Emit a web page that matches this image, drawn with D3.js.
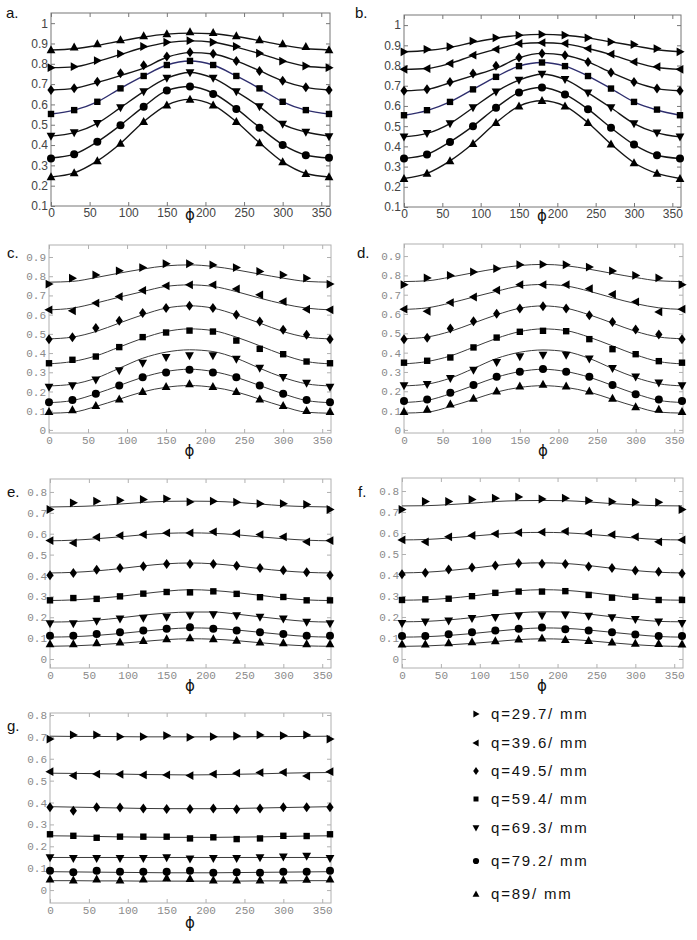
<!DOCTYPE html>
<html><head><meta charset="utf-8">
<script src="https://cdn.jsdelivr.net/npm/d3@7"></script>
<style>body{margin:0;background:#fff}svg{display:block}</style>
</head><body>
<script>
const phi = [0,30,60,90,120,150,180,210,240,270,300,330,360];
const xTicks = [0,50,100,150,200,250,300,350];
const qLabels = ["q=29.7/ mm","q=39.6/ mm","q=49.5/ mm","q=59.4/ mm","q=69.3/ mm","q=79.2/ mm","q=89/ mm"];
const legendMarkers = ["right","left","diamond","square","down","circle","up"];
const markersA = ["up","right","diamond","square","down","circle","up"];
const yTicksAB = [0.1,0.2,0.3,0.4,0.5,0.6,0.7,0.8,0.9,1];
const yTicksCD = [0,0.1,0.2,0.3,0.4,0.5,0.6,0.7,0.8,0.9];
const yTicksEFG = [0,0.1,0.2,0.3,0.4,0.5,0.6,0.7,0.8];

const pointsA = [
 [0.868,0.882,0.898,0.918,0.938,0.947,0.957,0.954,0.938,0.918,0.898,0.885,0.868],
 [0.781,0.786,0.816,0.849,0.885,0.906,0.914,0.906,0.885,0.852,0.813,0.789,0.781],
 [0.671,0.679,0.712,0.753,0.793,0.836,0.857,0.849,0.814,0.765,0.716,0.684,0.671],
 [0.553,0.572,0.613,0.679,0.740,0.794,0.814,0.794,0.740,0.679,0.613,0.572,0.553],
 [0.444,0.461,0.507,0.584,0.663,0.729,0.757,0.729,0.663,0.589,0.503,0.464,0.441],
 [0.334,0.355,0.416,0.498,0.589,0.668,0.688,0.651,0.577,0.485,0.400,0.350,0.337],
 [0.243,0.263,0.322,0.408,0.515,0.597,0.625,0.597,0.515,0.411,0.317,0.260,0.243]];
const fitA = [
 [0.868,0.874,0.890,0.912,0.932,0.946,0.951,0.948,0.934,0.914,0.892,0.875,0.868],
 [0.781,0.785,0.812,0.846,0.880,0.904,0.913,0.906,0.882,0.850,0.815,0.788,0.781],
 [0.671,0.679,0.708,0.742,0.779,0.832,0.855,0.848,0.814,0.766,0.716,0.684,0.671],
 [0.553,0.572,0.613,0.679,0.740,0.794,0.814,0.794,0.740,0.679,0.613,0.572,0.553],
 [0.444,0.461,0.507,0.584,0.663,0.729,0.757,0.729,0.663,0.589,0.503,0.464,0.444],
 [0.336,0.355,0.416,0.498,0.589,0.668,0.688,0.655,0.579,0.487,0.402,0.351,0.336],
 [0.243,0.263,0.322,0.408,0.515,0.597,0.625,0.597,0.515,0.411,0.317,0.260,0.243]];

const pointsB = [
 [0.868,0.880,0.893,0.921,0.937,0.950,0.954,0.950,0.937,0.917,0.904,0.884,0.868],
 [0.781,0.785,0.810,0.851,0.880,0.909,0.913,0.909,0.884,0.856,0.818,0.794,0.781],
 [0.675,0.682,0.719,0.761,0.799,0.840,0.860,0.851,0.818,0.766,0.719,0.686,0.675],
 [0.554,0.579,0.620,0.682,0.744,0.797,0.815,0.797,0.748,0.686,0.620,0.582,0.554],
 [0.447,0.464,0.513,0.591,0.670,0.728,0.757,0.731,0.665,0.591,0.513,0.467,0.447],
 [0.340,0.360,0.422,0.500,0.591,0.667,0.691,0.657,0.584,0.492,0.409,0.356,0.340],
 [0.241,0.266,0.328,0.414,0.517,0.599,0.626,0.599,0.517,0.411,0.319,0.266,0.241]];
const fitB = [
 [0.868,0.874,0.890,0.914,0.935,0.949,0.954,0.950,0.937,0.917,0.898,0.878,0.868],
 [0.781,0.785,0.810,0.849,0.880,0.907,0.913,0.907,0.884,0.854,0.818,0.790,0.781],
 [0.675,0.682,0.715,0.750,0.786,0.838,0.860,0.851,0.818,0.766,0.719,0.686,0.675],
 [0.554,0.577,0.620,0.682,0.744,0.797,0.815,0.797,0.748,0.686,0.620,0.580,0.554],
 [0.447,0.464,0.513,0.591,0.670,0.728,0.757,0.731,0.665,0.591,0.513,0.467,0.447],
 [0.340,0.360,0.422,0.500,0.591,0.667,0.691,0.657,0.584,0.492,0.409,0.356,0.340],
 [0.241,0.266,0.328,0.414,0.517,0.599,0.626,0.599,0.517,0.411,0.319,0.266,0.241]];

const pointsC = [
 [0.759,0.790,0.807,0.828,0.845,0.865,0.865,0.859,0.845,0.825,0.807,0.790,0.759],
 [0.625,0.620,0.660,0.694,0.726,0.750,0.755,0.755,0.734,0.703,0.668,0.628,0.625],
 [0.472,0.483,0.530,0.568,0.608,0.634,0.646,0.634,0.599,0.564,0.521,0.495,0.472],
 [0.347,0.365,0.382,0.431,0.483,0.507,0.517,0.512,0.465,0.422,0.394,0.356,0.347],
 [0.222,0.231,0.260,0.309,0.347,0.378,0.387,0.387,0.368,0.321,0.274,0.243,0.222],
 [0.144,0.156,0.188,0.231,0.274,0.299,0.313,0.299,0.274,0.231,0.188,0.156,0.144],
 [0.095,0.104,0.127,0.160,0.200,0.226,0.240,0.226,0.200,0.160,0.127,0.101,0.095]];
const fitC = [
 [0.769,0.773,0.793,0.816,0.837,0.854,0.859,0.851,0.833,0.811,0.790,0.773,0.769],
 [0.625,0.634,0.660,0.691,0.720,0.747,0.755,0.747,0.720,0.686,0.656,0.634,0.625],
 [0.474,0.483,0.512,0.556,0.599,0.634,0.646,0.634,0.599,0.556,0.512,0.483,0.474],
 [0.344,0.356,0.385,0.431,0.477,0.512,0.526,0.517,0.483,0.438,0.391,0.356,0.344],
 [0.229,0.238,0.269,0.321,0.373,0.405,0.417,0.408,0.373,0.321,0.273,0.240,0.229],
 [0.142,0.153,0.188,0.231,0.274,0.304,0.316,0.304,0.274,0.231,0.188,0.153,0.142],
 [0.087,0.092,0.122,0.160,0.198,0.222,0.231,0.222,0.198,0.160,0.122,0.092,0.087]];

const pointsD = [
 [0.752,0.787,0.800,0.818,0.835,0.855,0.857,0.855,0.843,0.823,0.800,0.787,0.752],
 [0.625,0.614,0.659,0.688,0.723,0.752,0.752,0.752,0.731,0.702,0.663,0.611,0.625],
 [0.470,0.477,0.525,0.563,0.602,0.628,0.640,0.628,0.594,0.559,0.520,0.494,0.470],
 [0.348,0.358,0.375,0.427,0.478,0.508,0.513,0.511,0.470,0.418,0.392,0.356,0.348],
 [0.229,0.236,0.267,0.310,0.349,0.379,0.387,0.387,0.367,0.318,0.275,0.244,0.229],
 [0.150,0.158,0.193,0.232,0.275,0.301,0.315,0.301,0.275,0.232,0.184,0.158,0.150],
 [0.095,0.107,0.133,0.164,0.201,0.227,0.236,0.227,0.201,0.164,0.120,0.107,0.095]];
const fitD = [
 [0.768,0.772,0.791,0.814,0.835,0.851,0.857,0.850,0.832,0.810,0.789,0.772,0.768],
 [0.624,0.632,0.657,0.688,0.718,0.745,0.753,0.745,0.718,0.684,0.654,0.632,0.624],
 [0.472,0.481,0.510,0.553,0.596,0.630,0.642,0.630,0.596,0.553,0.510,0.481,0.472],
 [0.342,0.354,0.383,0.428,0.474,0.509,0.523,0.514,0.480,0.435,0.389,0.354,0.342],
 [0.228,0.237,0.268,0.318,0.370,0.402,0.414,0.405,0.370,0.318,0.271,0.239,0.228],
 [0.142,0.153,0.187,0.230,0.273,0.302,0.314,0.302,0.273,0.230,0.187,0.153,0.142],
 [0.087,0.092,0.121,0.158,0.196,0.220,0.229,0.220,0.196,0.158,0.121,0.092,0.087]];

const pointsE = [
 [0.716,0.748,0.756,0.760,0.764,0.767,0.752,0.756,0.751,0.744,0.744,0.740,0.716],
 [0.567,0.556,0.583,0.591,0.596,0.604,0.604,0.609,0.601,0.596,0.585,0.561,0.567],
 [0.401,0.412,0.428,0.436,0.444,0.455,0.455,0.455,0.447,0.436,0.425,0.415,0.401],
 [0.281,0.292,0.288,0.300,0.313,0.321,0.319,0.324,0.312,0.296,0.297,0.281,0.281],
 [0.169,0.169,0.181,0.192,0.196,0.201,0.208,0.212,0.208,0.200,0.192,0.176,0.169],
 [0.112,0.112,0.120,0.128,0.137,0.145,0.152,0.145,0.137,0.128,0.120,0.112,0.112],
 [0.073,0.073,0.077,0.081,0.088,0.096,0.101,0.096,0.089,0.081,0.077,0.073,0.073]];
const fitE = [
 [0.728,0.730,0.734,0.742,0.750,0.755,0.756,0.755,0.750,0.742,0.734,0.730,0.728],
 [0.566,0.569,0.576,0.585,0.595,0.602,0.604,0.602,0.595,0.585,0.576,0.569,0.566],
 [0.412,0.415,0.422,0.433,0.446,0.456,0.460,0.456,0.446,0.433,0.422,0.415,0.412],
 [0.280,0.283,0.290,0.300,0.313,0.325,0.332,0.328,0.318,0.305,0.292,0.283,0.280],
 [0.177,0.179,0.186,0.197,0.210,0.220,0.225,0.225,0.215,0.202,0.190,0.180,0.177],
 [0.105,0.107,0.113,0.122,0.133,0.143,0.149,0.147,0.139,0.128,0.117,0.108,0.105],
 [0.061,0.063,0.068,0.075,0.084,0.093,0.097,0.095,0.088,0.078,0.069,0.063,0.061]];

const pointsF = [
 [0.712,0.750,0.750,0.760,0.766,0.772,0.762,0.766,0.754,0.749,0.746,0.746,0.712],
 [0.567,0.558,0.582,0.588,0.596,0.602,0.604,0.608,0.599,0.592,0.582,0.558,0.567],
 [0.404,0.411,0.426,0.436,0.445,0.456,0.453,0.452,0.441,0.433,0.422,0.416,0.407],
 [0.281,0.284,0.287,0.299,0.315,0.321,0.321,0.323,0.305,0.292,0.296,0.281,0.281],
 [0.170,0.176,0.181,0.193,0.198,0.205,0.206,0.210,0.204,0.197,0.189,0.176,0.170],
 [0.110,0.110,0.118,0.127,0.136,0.144,0.150,0.142,0.136,0.127,0.117,0.110,0.110],
 [0.071,0.071,0.077,0.081,0.086,0.095,0.100,0.092,0.087,0.080,0.075,0.073,0.071]];
const fitF = [
 [0.729,0.730,0.735,0.742,0.750,0.754,0.755,0.754,0.748,0.740,0.734,0.730,0.729],
 [0.567,0.569,0.576,0.585,0.594,0.601,0.603,0.601,0.594,0.585,0.576,0.569,0.567],
 [0.410,0.413,0.421,0.432,0.445,0.455,0.458,0.455,0.445,0.432,0.421,0.413,0.410],
 [0.280,0.282,0.289,0.300,0.313,0.325,0.330,0.327,0.317,0.304,0.291,0.282,0.280],
 [0.177,0.179,0.186,0.197,0.210,0.220,0.225,0.224,0.214,0.201,0.189,0.179,0.177],
 [0.104,0.106,0.112,0.121,0.132,0.142,0.148,0.146,0.138,0.127,0.116,0.107,0.104],
 [0.060,0.062,0.067,0.074,0.083,0.092,0.096,0.094,0.087,0.077,0.068,0.062,0.060]];

const pointsG = [
 [0.690,0.709,0.709,0.701,0.701,0.706,0.698,0.701,0.704,0.709,0.706,0.709,0.690],
 [0.541,0.523,0.530,0.529,0.526,0.526,0.523,0.530,0.534,0.537,0.538,0.521,0.541],
 [0.378,0.363,0.378,0.377,0.373,0.370,0.370,0.373,0.369,0.373,0.378,0.378,0.378],
 [0.255,0.248,0.239,0.244,0.244,0.244,0.236,0.241,0.233,0.236,0.248,0.247,0.255],
 [0.148,0.145,0.145,0.145,0.145,0.148,0.142,0.145,0.145,0.148,0.152,0.155,0.145],
 [0.088,0.081,0.088,0.084,0.084,0.084,0.088,0.079,0.081,0.079,0.084,0.084,0.088],
 [0.050,0.046,0.050,0.046,0.050,0.056,0.053,0.046,0.046,0.046,0.046,0.049,0.050]];
const fitG = [
 [0.703,0.702,0.702,0.701,0.700,0.700,0.700,0.700,0.700,0.701,0.701,0.702,0.703],
 [0.534,0.533,0.532,0.530,0.528,0.527,0.526,0.527,0.529,0.531,0.534,0.536,0.537],
 [0.381,0.379,0.377,0.375,0.373,0.372,0.372,0.372,0.373,0.375,0.377,0.379,0.381],
 [0.248,0.247,0.245,0.243,0.242,0.241,0.241,0.241,0.242,0.243,0.245,0.247,0.248],
 [0.149,0.149,0.149,0.149,0.149,0.149,0.149,0.149,0.149,0.149,0.149,0.149,0.149],
 [0.084,0.083,0.082,0.081,0.080,0.079,0.079,0.079,0.080,0.081,0.082,0.083,0.084],
 [0.043,0.043,0.042,0.042,0.041,0.041,0.041,0.041,0.041,0.042,0.042,0.043,0.043]];

const W = 697, H = 940;
const svg = d3.select("body").append("svg").attr("width", W).attr("height", H);

function markerPath(type, k) {
  k = k || 1;
  const p = d3.path();
  const poly = pts => { p.moveTo(pts[0][0]*k, pts[0][1]*k); pts.slice(1).forEach(q => p.lineTo(q[0]*k, q[1]*k)); p.closePath(); };
  switch (type) {
    case "up": poly([[0,-4.6],[4.4,3.4],[-4.4,3.4]]); break;
    case "down": poly([[0,4.6],[4.4,-3.4],[-4.4,-3.4]]); break;
    case "right": poly([[-3.4,-4.4],[4.6,0],[-3.4,4.4]]); break;
    case "left": poly([[3.4,-4.4],[-4.6,0],[3.4,4.4]]); break;
    case "diamond": poly([[0,-5],[3.6,0],[0,5],[-3.6,0]]); break;
    case "square": poly([[-3.2,-3.2],[3.2,-3.2],[3.2,3.2],[-3.2,3.2]]); break;
    case "circle": p.arc(0,0,4*k,0,2*Math.PI); p.closePath(); break;
  }
  return p.toString();
}

function drawPanel(cfg) {
  const x = d3.scaleLinear().domain([0,360]).range([cfg.x0, cfg.x1]);
  const y = d3.scaleLinear().domain(cfg.yDom).range([cfg.bot, cfg.top]);
  const g = svg.append("g");
  const font = cfg.mono ? "'Liberation Mono','DejaVu Sans Mono',monospace" : "'Liberation Sans',Arial,sans-serif";
  const fs = cfg.mono ? 11 : 12;
  const tickCol = cfg.mono ? "#8a8a8a" : "#444";
  const boxCol = cfg.mono ? "#b0b0b0" : "#777";

  const ax = (gen, tr, labels) => {
    const a = g.append("g").attr("transform", tr).call(gen);
    a.select(".domain").remove();
    a.selectAll("line").attr("stroke", boxCol);
    a.selectAll("text").attr("fill", tickCol).attr("font-family", font).attr("font-size", fs);
    if (!labels) a.selectAll("text").remove();
    return a;
  };
  const xf = d3.format("d");
  const yf = v => d3.format("~g")(+v.toFixed(2));
  ax(d3.axisBottom(x).tickValues(xTicks).tickFormat(xf).tickSize(-4).tickPadding(cfg.mono ? 3 : 2), `translate(0,${cfg.bot})`, true);
  ax(d3.axisTop(x).tickValues(xTicks).tickFormat("").tickSize(-4), `translate(0,${cfg.top})`, false);
  ax(d3.axisLeft(y).tickValues(cfg.yTicks).tickFormat(yf).tickSize(-4).tickPadding(3), `translate(${cfg.x0},0)`, true);
  ax(d3.axisRight(y).tickValues(cfg.yTicks).tickFormat("").tickSize(-4), `translate(${cfg.x1 + 1},0)`, false);

  g.append("rect").attr("x", cfg.x0).attr("y", cfg.top).attr("width", cfg.x1 + 1 - cfg.x0).attr("height", cfg.bot - cfg.top)
    .attr("fill", "none").attr("stroke", boxCol).attr("stroke-width", 1);

  const line = d3.line().x((d,i) => x(phi[i])).y(d => y(d)).curve(d3.curveMonotoneX);
  cfg.fits.forEach((s, si) => {
    g.append("path").attr("d", line(s)).attr("fill", "none")
      .attr("stroke", cfg.mono ? "#3a3a3a" : (si === 3 ? "#2e2e6e" : "#151515"))
      .attr("stroke-width", cfg.mono ? 1 : 1.4);
  });
  cfg.points.forEach((s, si) => {
    g.append("g").selectAll("path").data(s).join("path")
      .attr("transform", (d,i) => `translate(${x(phi[i])},${y(d)})`)
      .attr("d", markerPath(cfg.markers[si])).attr("fill", "#000");
  });
  svg.append("text").attr("x", cfg.lx).attr("y", cfg.ly).text(cfg.label)
    .attr("font-family", "'Liberation Sans',Arial,sans-serif").attr("font-size", 15).attr("fill", "#111");
  svg.append("text").attr("x", (cfg.x0 + cfg.x1) / 2).attr("y", cfg.phiY).attr("text-anchor", "middle")
    .attr("font-family", "'DejaVu Sans',sans-serif").attr("font-size", 15).attr("fill", "#111").text("ϕ");
}

drawPanel({label:"a.", lx:6, ly:18, x0:51, x1:329, top:13, bot:206, yDom:[0.1,1.05], yTicks:yTicksAB, mono:false, points:pointsA, fits:fitA, markers:markersA, phiY:220});
drawPanel({label:"b.", lx:355, ly:18, x0:404, x1:680, top:15, bot:207, yDom:[0.1,1.05], yTicks:yTicksAB, mono:false, points:pointsB, fits:fitB, markers:legendMarkers, phiY:221});
drawPanel({label:"c.", lx:7, ly:258, x0:49, x1:330, top:245, bot:433, yDom:[-0.016,0.9625], yTicks:yTicksCD, mono:true, points:pointsC, fits:fitC, markers:legendMarkers, phiY:456});
drawPanel({label:"d.", lx:357, ly:258, x0:404, x1:682, top:244, bot:433, yDom:[-0.016,0.9625], yTicks:yTicksCD, mono:true, points:pointsD, fits:fitD, markers:legendMarkers, phiY:456});
drawPanel({label:"e.", lx:7, ly:497, x0:50, x1:330, top:479, bot:668, yDom:[-0.043,0.862], yTicks:yTicksEFG, mono:true, points:pointsE, fits:fitE, markers:legendMarkers, phiY:691});
drawPanel({label:"f.", lx:358, ly:497, x0:402, x1:682, top:478, bot:668, yDom:[-0.043,0.862], yTicks:yTicksEFG, mono:true, points:pointsF, fits:fitF, markers:legendMarkers, phiY:691});
drawPanel({label:"g.", lx:7, ly:731, x0:50, x1:330, top:713, bot:903, yDom:[-0.059,0.809], yTicks:yTicksEFG, mono:true, points:pointsG, fits:fitG, markers:legendMarkers, phiY:928});

// legend
const legendY = [714,743,771,799,828,861,894];
const lg = svg.append("g");
qLabels.forEach((t, i) => {
  lg.append("path").attr("transform", `translate(476,${legendY[i]})`).attr("d", markerPath(legendMarkers[i], 0.78)).attr("fill", "#000");
  lg.append("text").attr("x", 491).attr("y", legendY[i] + 5).text(t)
    .attr("font-family", "'Liberation Sans',Arial,sans-serif").attr("font-size", 15).attr("letter-spacing", "1.8px").attr("fill", "#111");
});
</script>
</body></html>
